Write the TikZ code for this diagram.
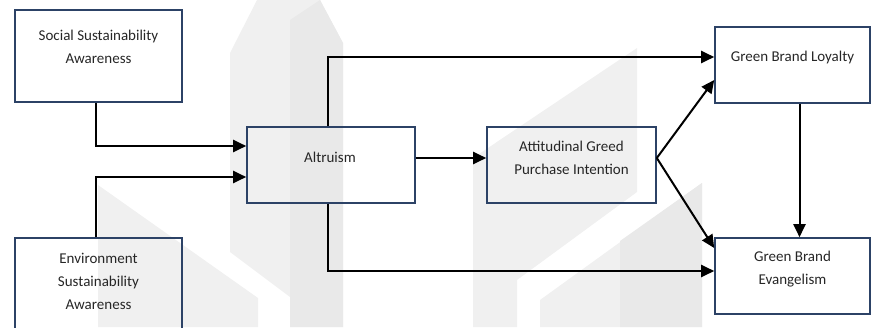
\documentclass[tikz,border=0pt]{standalone}
\usepackage{fontspec}
\setmainfont{Carlito}
\usetikzlibrary{arrows.meta,calc}
\definecolor{boxline}{RGB}{44,66,102}
\definecolor{wmlight}{RGB}{240,240,240}
\definecolor{wmdark}{RGB}{233,233,233}
\begin{document}
\begin{tikzpicture}[x=1pt,y=-1pt,
  box/.style={draw=boxline,line width=1.6pt,rectangle,inner sep=0pt},
  lbl/.style={font=\fontsize{15}{23}\selectfont,text=black!85,align=center,inner sep=0pt},
  link/.style={line width=2pt,-{Triangle[length=13pt,width=12pt]}},
  wm/.style={fill=wmlight,draw=none},
  wmd/.style={fill=wmdark,draw=none}]
\useasboundingbox (0,0) rectangle (872,327);
\clip (0,0) rectangle (872,327);

% faint logo in the background
\fill[wm] (230,252) -- (230,53) -- (257,0) -- (320,0) -- (343,43) -- (343,327) -- (290,327) -- (290,297) -- cycle;
\fill[wmd] (290,20) -- (320,0) -- (343,43) -- (343,327) -- (290,327) -- cycle;
\fill[wm] (98,185) -- (258,298) -- (258,327) -- (98,327) -- cycle;
\fill[wm] (473,327) -- (473,158) -- (637,48) -- (637,192) -- (517,280) -- (517,327) -- cycle;
\fill[wm] (540,327) -- (540,300) -- (702,183) -- (702,327) -- cycle;
\fill[wmd] (620,241) -- (702,183) -- (702,327) -- (620,327) -- cycle;

% boxes
\node[box,minimum width=167pt,minimum height=92pt] (ssa) at (98.5,56) {};
\node[box,minimum width=167pt,minimum height=92pt] (esa) at (98.5,284) {};
\node[box,minimum width=168pt,minimum height=76pt] (alt) at (331,165) {};
\node[box,minimum width=169pt,minimum height=76pt] (agp) at (571.5,165) {};
\node[box,minimum width=155pt,minimum height=76pt] (gbl) at (792.5,65) {};
\node[box,minimum width=155pt,minimum height=76pt] (gbe) at (792.5,276) {};

% labels
\node[lbl] (ssa-t) at (98.5,47) {Social Sustainability\\Awareness};
\node[lbl] (esa-t) at (98.5,281) {Environment\\Sustainability\\Awareness};
\node[lbl] (alt-t) at (330,157) {Altruism};
\node[lbl] (agp-t) at (571.5,158) {Attitudinal Greed\\Purchase Intention};
\node[lbl] (gbl-t) at (792.5,57) {Green Brand Loyalty};
\node[lbl] (gbe-t) at (792.5,269) {Green Brand\\Evangelism};

% connectors
\draw[link] ([xshift=-2.5pt]ssa.south) |- ([yshift=19pt]alt.west);
\draw[link] ([xshift=-2.5pt]esa.north) |- ([yshift=-12pt]alt.west);
\draw[link] ([xshift=-3pt]alt.north) |- ([yshift=8pt]gbl.west);
\draw[link] ([xshift=-3pt]alt.south) |- ([yshift=5pt]gbe.west);
\draw[link] ([yshift=7pt]alt.east) -- ([yshift=7pt]agp.west);
\draw[link] ([yshift=7pt]agp.east) -- ([yshift=-15pt]gbl.west);
\draw[link] ([yshift=7pt]agp.east) -- ([yshift=28pt]gbe.west);
\draw[link] ([xshift=7pt]gbl.south) -- ([xshift=7pt]gbe.north);
\end{tikzpicture}
\end{document}
